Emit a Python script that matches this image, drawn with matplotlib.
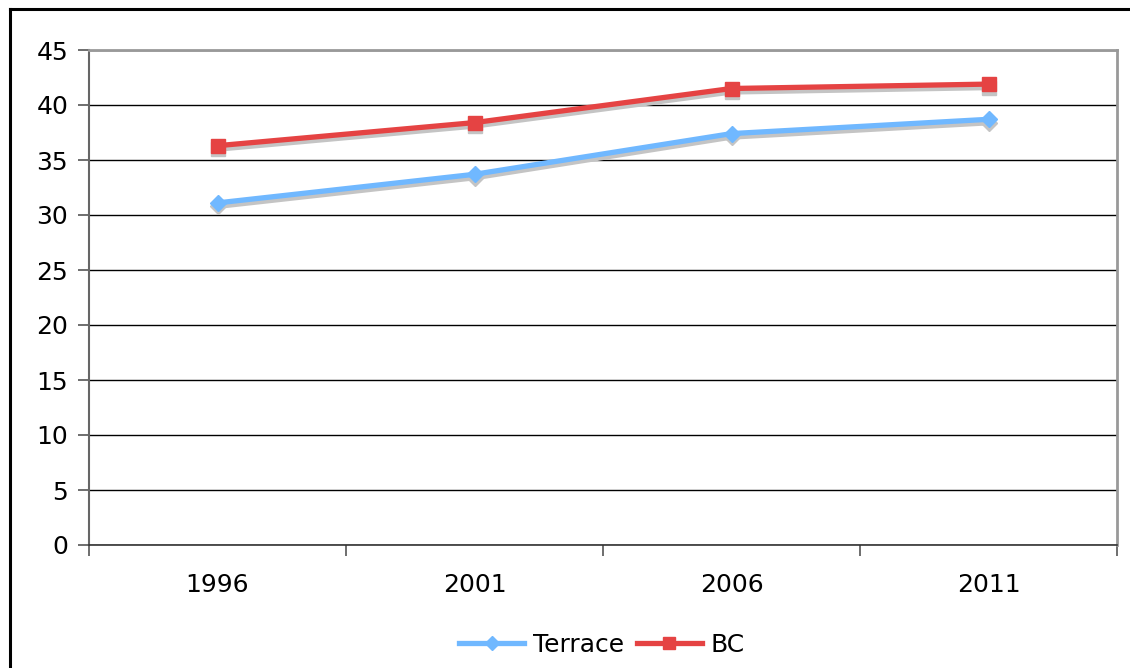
import matplotlib
matplotlib.use("Agg")
import matplotlib.pyplot as plt
from matplotlib.lines import Line2D
import matplotlib.transforms as mtrans

years = ["1996", "2001", "2006", "2011"]
terrace = [31.1, 33.7, 37.4, 38.7]
bc = [36.3, 38.4, 41.5, 41.9]
yticks = [0, 5, 10, 15, 20, 25, 30, 35, 40, 45]

W, H = 1130, 668
fig = plt.figure(figsize=(W / 100, H / 100), dpi=100)
plt.rcParams['font.family'] = ['DejaVu Sans']
FS = 18

# outer frame
fig.add_artist(Line2D([9.5 / W, 9.5 / W], [0, 1 - 8.5 / H], transform=fig.transFigure, color='black', lw=2.2))
fig.add_artist(Line2D([9.5 / W, 1.0], [1 - 8.5 / H, 1 - 8.5 / H], transform=fig.transFigure, color='black', lw=2.2))

x0, x1 = 89, 1117
y0, y1 = 50, 545
ax = fig.add_axes([x0 / W, 1 - y1 / H, (x1 - x0) / W, (y1 - y0) / H])
ax.set_xlim(-0.5, 3.5)
ax.set_ylim(0, 45)

xs = list(range(len(years)))
shift = ax.transData + mtrans.ScaledTranslation(0, -3.5 / 100, fig.dpi_scale_trans)
for vals, marker, ms in [(terrace, 'D', 8.5), (bc, 's', 10)]:
    ax.plot(xs, vals, color='#C4C4C4', lw=3.8, marker=marker, ms=ms, mec='#C4C4C4', mfc='#C4C4C4',
            transform=shift, zorder=3)
lt, = ax.plot(xs, terrace, color='#70B8FF', lw=3.8, marker='D', ms=8.5, mec='#70B8FF', mfc='#70B8FF', zorder=4, label='Terrace')
lb, = ax.plot(xs, bc, color='#E54343', lw=3.8, marker='s', ms=10, mec='#E54343', mfc='#E54343', zorder=4, label='BC')

ax.set_yticks(yticks)
ax.set_yticklabels([str(v) for v in yticks])
ax.yaxis.grid(True, color='black', lw=1.0)
ax.set_axisbelow(True)
ax.set_xticks(xs)
ax.set_xticklabels(years)
ax.set_xticks([-0.5, 0.5, 1.5, 2.5, 3.5], minor=True)
ax.tick_params(axis='x', which='major', length=0, pad=20, labelsize=FS)
ax.tick_params(axis='x', which='minor', length=8, color='#555555', direction='out', width=1.2)
ax.tick_params(axis='y', length=8, color='#555555', width=1.2, labelsize=FS, pad=7)

for s in ['top', 'right']:
    ax.spines[s].set_color('#999999')
    ax.spines[s].set_linewidth(2.0)
ax.spines['left'].set_color('#666666')
ax.spines['left'].set_linewidth(1.5)
ax.spines['bottom'].set_color('#333333')
ax.spines['bottom'].set_linewidth(1.2)

leg = fig.legend(handles=[lt, lb], loc='center', bbox_to_anchor=(602 / W, 1 - 645 / H), ncol=2,
                 frameon=False, fontsize=FS, handlelength=2.6, handletextpad=0.35, columnspacing=0.5,
                 markerscale=0.8)

fig.savefig('out.png', dpi=100)
